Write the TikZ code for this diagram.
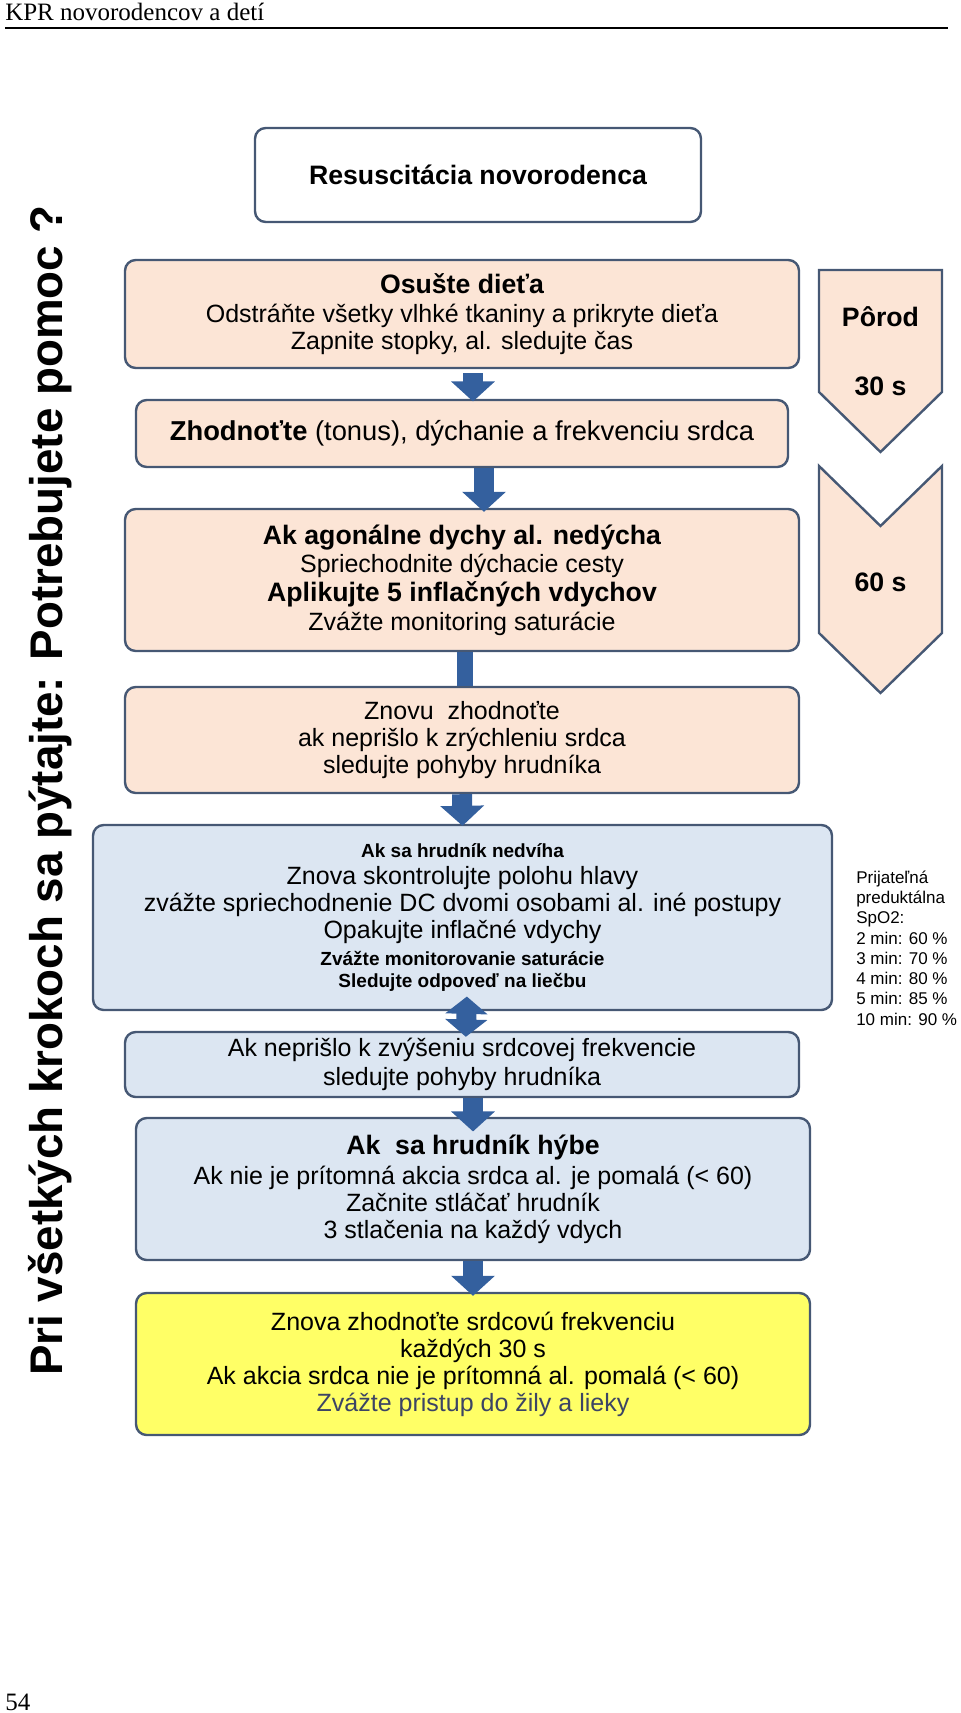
\documentclass[tikz,border=0pt]{standalone}
\usepackage{fontspec}
\setmainfont{Liberation Serif}
\newfontfamily\arial{Liberation Sans}
\usetikzlibrary{arrows.meta}
\definecolor{boxline}{RGB}{70,88,116}
\definecolor{peach}{RGB}{252,229,214}
\definecolor{paleblue}{RGB}{220,230,242}
\definecolor{lemon}{RGB}{255,255,102}
\definecolor{flowblue}{RGB}{52,96,158}
\definecolor{hintgray}{RGB}{60,68,100}
\newcommand\bigbold{\bfseries\fontsize{20}{20}\selectfont}
\newcommand\smallbold{\bfseries\fontsize{14.25}{14.25}\selectfont}
\tikzset{
  card/.style={draw=boxline, line width=1.8pt, rounded corners=8pt, align=center, inner sep=0pt},
  chev/.style={draw=boxline, fill=peach, line width=1.8pt},
  flow/.style={draw=flowblue, line width=15pt, -{Triangle[width=32pt,length=15pt]}},
}
\begin{document}
\begin{tikzpicture}[x=0.75pt, y=-0.75pt, font=\arial\fontsize{18.75}{20.25}\selectfont]
		\useasboundingbox (0,0) rectangle (960,1713);
		% hlavicka strany
		\node[anchor=base west, inner sep=0pt, font=\rmfamily\fontsize{18.75}{18.75}\selectfont] (hlava) at (5,21) {KPR novorodencov a detí};
		\draw[line width=1.5pt] (5,28) -- (948,28);
		\node[anchor=base west, inner sep=0pt, font=\rmfamily\fontsize{18.75}{18.75}\selectfont] (strana) at (5,1710) {54};
		% kroky
		\node[card, fill=white, minimum width=334.5pt, minimum height=70.5pt] (titul) at (478,175) {\bigbold Resuscitácia novorodenca};
		\node[card, fill=peach, minimum width=505.5pt, minimum height=81pt] (osuste) at (462,314) {{\bigbold Osušte dieťa}\\[2pt] Odstráňte všetky vlhké tkaniny a prikryte dieťa\\ Zapnite stopky, al. sledujte čas};
		\node[card, fill=peach, minimum width=489pt, minimum height=50.25pt, font=\arial\fontsize{20.5}{20.5}\selectfont] (zhodnot) at (462,433.5) {\textbf{Zhodnoťte} (tonus), dýchanie a frekvenciu srdca};
		\node[card, fill=peach, minimum width=505.5pt, minimum height=106.5pt, font=\arial\fontsize{18.75}{21.5}\selectfont] (agonal) at (462,580) {{\bigbold Ak agonálne dychy al. nedýcha}\\ Spriechodnite dýchacie cesty\\ {\bigbold Aplikujte 5 inflačných vdychov}\\ Zvážte monitoring saturácie};
		\node[card, fill=peach, minimum width=505.5pt, minimum height=79.5pt] (znovu) at (462,740) {Znovu\ \ zhodnoťte\\ ak neprišlo k zrýchleniu srdca\\ sledujte pohyby hrudníka};
		\node[card, fill=paleblue, minimum width=554.25pt, minimum height=138.75pt] (nedviha) at (462.5,917.5) {{\smallbold Ak sa hrudník nedvíha}\\ Znova skontrolujte polohu hlavy\\ zvážte spriechodnenie DC dvomi osobami al. iné postupy\\ Opakujte inflačné vdychy\\ {\smallbold Zvážte monitorovanie saturácie}\\[-3.75pt] {\smallbold Sledujte odpoveď na liečbu}};
		\node[card, fill=paleblue, minimum width=505.5pt, minimum height=48.75pt, font=\arial\fontsize{18.75}{21.75}\selectfont] (neprislo) at (462,1064.5) {Ak neprišlo k zvýšeniu srdcovej frekvencie\\ sledujte pohyby hrudníka};
		\node[card, fill=paleblue, minimum width=505.5pt, minimum height=106.5pt] (hybe) at (473,1189) {{\bigbold Ak\ \ sa hrudník hýbe}\\[2pt] Ak nie je prítomná akcia srdca al. je pomalá (< 60)\\ Začnite stláčať hrudník\\ 3 stlačenia na každý vdych};
		\node[card, fill=lemon, minimum width=505.5pt, minimum height=106.5pt] (srdcova) at (473,1364) {Znova zhodnoťte srdcovú frekvenciu\\ každých 30 s\\ Ak akcia srdca nie je prítomná al. pomalá (< 60)\\ {\color{hintgray}Zvážte pristup do žily a lieky}};
		% casova os
		\draw[chev] (819,270) -- (942,270) -- (942,392) -- (880.5,452) -- (819,392) -- cycle;
		\draw[chev] (819,466) -- (880.5,526) -- (942,466) -- (942,633) -- (880.5,693) -- (819,633) -- cycle;
		\node[font=\arial\bigbold] (porod) at (880.5,317) {Pôrod};
		\node[font=\arial\bigbold] (tridsat) at (880.5,386) {30 s};
		\node[font=\arial\bigbold] (sestdesiat) at (880.5,582) {60 s};
		% saturacia
		\node[anchor=west, align=left, inner sep=0pt, font=\arial\fontsize{12.75}{15.2}\selectfont] (spo) at (856,948) {Prijateľná\\ preduktálna\\ SpO2:\\ 2 min: 60 \%\\ 3 min: 70 \%\\ 4 min: 80 \%\\ 5 min: 85 \%\\ 10 min: 90 \%};
		\node[rotate=90, anchor=base, inner sep=0pt, font=\arial\bfseries\fontsize{34.3}{34.3}\selectfont] (otazka) at (62,790.5) {Pri všetkých krokoch sa pýtajte: Potrebujete pomoc ?};
		% sipky
		\draw[flow, shorten <=3pt, shorten >=-2pt] ([xshift=8.25pt]osuste.south) -- ([xshift=8.25pt]zhodnot.north);
		\draw[flow, shorten >=-3pt] ([xshift=16.5pt]zhodnot.south) -- ([xshift=16.5pt]agonal.north);
		\draw[draw=flowblue, line width=12pt] ([xshift=2.25pt]agonal.south) -- ([xshift=2.25pt]znovu.north);
		\draw[flow, shorten >=-1.5pt] (znovu.south) -- (nedviha.north);
		\draw[flow, {Triangle[width=31pt,length=13pt]}-{Triangle[width=31pt,length=13pt]}, shorten <=-11pt, shorten >=-4.5pt] ([xshift=3pt]nedviha.south) -- ([xshift=3pt]neprislo.north);
		\draw[flow, shorten >=-11pt] ([xshift=8.25pt]neprislo.south) -- (hybe.north);
		\draw[flow, shorten >=-3pt] (hybe.south) -- (srdcova.north);
\end{tikzpicture}
\end{document}
